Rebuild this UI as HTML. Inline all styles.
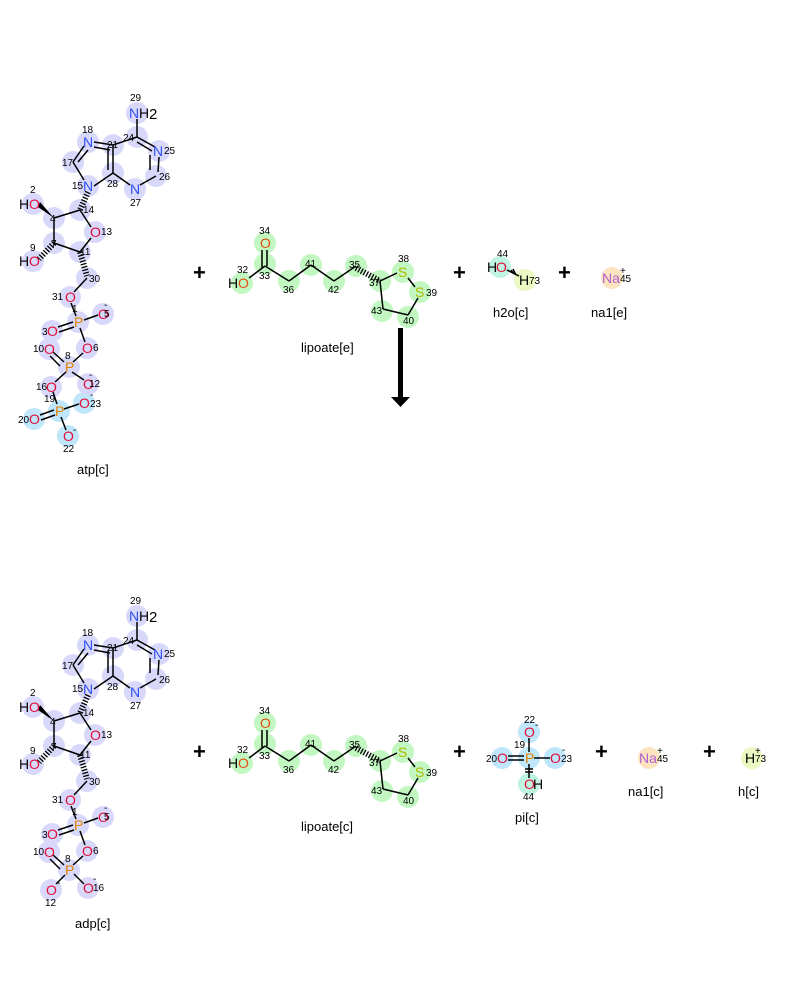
<!DOCTYPE html>
<html><head><meta charset="utf-8"><style>
html,body{margin:0;padding:0;background:#fff;}
svg{display:block;font-family:"Liberation Sans","DejaVu Sans",sans-serif;}
.n{font-size:10px;fill:#000;}
.a{font-size:14px;}
.N{fill:#3050f8}.O{fill:#e0103a}.P{fill:#e08000}.S{fill:#b0b800}.Na{fill:#b060d0}.K{fill:#000}
.lbl{font-size:13px;fill:#000;}
.pl{font-size:22px;font-weight:bold;fill:#000;}
line{stroke:#000;stroke-width:1.5}
line.h{stroke-width:6;stroke-dasharray:1.3 1.7}
.cp circle{fill:#d8d8fa;r:11px}
.cb circle{fill:#bfe6fa;r:11px}
.cg circle{fill:#c2f7c2;r:11px}
</style></head><body>
<svg width="800" height="1000" viewBox="0 0 800 1000" xmlns="http://www.w3.org/2000/svg">
<defs>
<g id="aden">
 <g class="cp">
  <circle cx="137" cy="113" r="11"/><circle cx="137" cy="137" r="11"/><circle cx="88" cy="142" r="11"/>
  <circle cx="113" cy="145" r="11"/><circle cx="159" cy="151" r="11"/><circle cx="73" cy="162" r="11"/>
  <circle cx="156" cy="176" r="11"/><circle cx="88" cy="186" r="11"/><circle cx="113" cy="173" r="11"/>
  <circle cx="135" cy="189" r="11"/><circle cx="33" cy="204" r="11"/><circle cx="54" cy="218" r="11"/>
  <circle cx="80" cy="210" r="11"/><circle cx="95" cy="232" r="11"/><circle cx="54" cy="243" r="11"/>
  <circle cx="80" cy="252" r="11"/><circle cx="33" cy="261" r="11"/><circle cx="87" cy="278" r="11"/>
  <circle cx="70" cy="297" r="11"/><circle cx="78" cy="322" r="11"/><circle cx="103" cy="314" r="11"/>
  <circle cx="52" cy="331" r="11"/><circle cx="87" cy="348" r="11"/><circle cx="49" cy="349" r="11"/>
  <circle cx="69" cy="367" r="11"/>
 </g>
 <line x1="137" y1="119" x2="137" y2="137"/>
 <line x1="137" y1="137" x2="155" y2="147"/><line x1="137" y1="142" x2="152" y2="151"/>
 <line x1="159" y1="157" x2="158" y2="172"/><line x1="150" y1="155" x2="150" y2="170"/>
 <line x1="156" y1="176" x2="140" y2="185"/>
 <line x1="130" y1="185" x2="113" y2="173"/>
 <line x1="113" y1="173" x2="113" y2="145"/><line x1="108" y1="170" x2="108" y2="148"/>
 <line x1="113" y1="145" x2="137" y2="137"/>
 <line x1="113" y1="145" x2="94" y2="142"/><line x1="110" y1="150" x2="94" y2="147"/>
 <line x1="84" y1="146" x2="73" y2="162"/><line x1="88" y1="150" x2="78" y2="162"/>
 <line x1="73" y1="162" x2="84" y2="180"/>
 <line x1="94" y1="186" x2="113" y2="173"/>
 <line class="h" x1="88" y1="192" x2="80" y2="210"/>
 <line x1="80" y1="210" x2="54" y2="218"/>
 <polygon points="54,218 40,202 38,207" fill="#000"/>
 <line x1="54" y1="218" x2="54" y2="243"/>
 <line class="h" x1="54" y1="243" x2="39" y2="259"/>
 <line x1="54" y1="243" x2="80" y2="252"/>
 <line x1="80" y1="252" x2="91" y2="238"/>
 <line x1="91" y1="227" x2="80" y2="210"/>
 <line class="h" x1="80" y1="252" x2="87" y2="276"/>
 <line x1="87" y1="278" x2="74" y2="292"/>
 <line x1="71" y1="303" x2="76" y2="316"/>
 <line x1="84" y1="320" x2="98" y2="315"/>
 <line x1="73" y1="322" x2="58" y2="327"/><line x1="74" y1="327" x2="59" y2="332"/>
 <line x1="80" y1="328" x2="85" y2="342"/>
 <line x1="83" y1="353" x2="73" y2="362"/>
 <line x1="64" y1="362" x2="53" y2="352"/><line x1="60" y1="366" x2="50" y2="356"/>
 <g class="a">
  <text x="129" y="118" class="N">N</text><text x="139" y="118" class="K">H</text><text x="149" y="119" class="K" font-size="15">2</text>
  <text x="83" y="147" class="N">N</text><text x="153" y="156" class="N">N</text>
  <text x="83" y="191" class="N">N</text><text x="130" y="194" class="N">N</text>
  <text x="19" y="209" class="K">H</text><text x="29" y="209" class="O">O</text>
  <text x="90" y="237" class="O">O</text>
  <text x="19" y="266" class="K">H</text><text x="29" y="266" class="O">O</text>
  <text x="65" y="302" class="O">O</text><text x="74" y="327" class="P">P</text>
  <text x="98" y="319" class="O">O</text><text x="47" y="336" class="O">O</text>
  <text x="82" y="353" class="O">O</text><text x="44" y="354" class="O">O</text>
  <text x="65" y="372" class="P">P</text>
 </g>
 <g class="n">
  <text x="130" y="101">29</text><text x="123" y="141">24</text><text x="82" y="133">18</text>
  <text x="107" y="148">21</text><text x="164" y="154">25</text><text x="62" y="166">17</text>
  <text x="159" y="180">26</text><text x="72" y="189">15</text><text x="107" y="187">28</text>
  <text x="130" y="206">27</text><text x="30" y="193">2</text><text x="50" y="222">4</text>
  <text x="83" y="213">14</text><text x="101" y="235">13</text><text x="51" y="247">7</text>
  <text x="80" y="255">11</text><text x="30" y="251">9</text><text x="89" y="282">30</text>
  <text x="52" y="300">31</text><text x="72" y="312">1</text><text x="104" y="317">5</text>
  <text x="104" y="308">-</text><text x="42" y="335">3</text><text x="93" y="351">6</text>
  <text x="33" y="352">10</text><text x="65" y="359">8</text>
 </g>
</g>
<g id="lip">
 <g class="cg">
  <circle cx="265" cy="243" r="11"/><circle cx="265" cy="264" r="11"/><circle cx="242" cy="283" r="11"/>
  <circle cx="289" cy="281" r="11"/><circle cx="311" cy="265" r="11"/><circle cx="334" cy="281" r="11"/>
  <circle cx="356" cy="266" r="11"/><circle cx="380" cy="281" r="11"/><circle cx="403" cy="272" r="11"/>
  <circle cx="420" cy="292" r="11"/><circle cx="408" cy="317" r="11"/><circle cx="382" cy="311" r="11"/>
 </g>
 <line x1="262" y1="250" x2="262" y2="268"/><line x1="267" y1="250" x2="267" y2="266"/>
 <line x1="265" y1="266" x2="249" y2="278"/>
 <line x1="265" y1="266" x2="289" y2="281"/>
 <line x1="289" y1="281" x2="311" y2="265"/>
 <line x1="311" y1="265" x2="334" y2="281"/>
 <line x1="334" y1="281" x2="356" y2="266"/>
 <line class="h" x1="356" y1="268" x2="380" y2="281"/>
 <line x1="380" y1="281" x2="397" y2="273"/>
 <line x1="408" y1="278" x2="415" y2="287"/>
 <line x1="418" y1="298" x2="408" y2="315"/>
 <line x1="408" y1="315" x2="383" y2="309"/>
 <line x1="383" y1="309" x2="380" y2="281"/>
 <g class="a">
  <text x="260" y="248" style="fill:#e05010">O</text>
  <text x="228" y="288" class="K">H</text><text x="238" y="288" style="fill:#e05010">O</text>
  <text x="398" y="277" class="S">S</text><text x="415" y="297" class="S">S</text>
 </g>
 <g class="n">
  <text x="259" y="234">34</text><text x="237" y="273">32</text><text x="259" y="279">33</text>
  <text x="283" y="293">36</text><text x="305" y="267">41</text><text x="328" y="293">42</text>
  <text x="349" y="268">35</text><text x="369" y="286">37</text><text x="398" y="262">38</text>
  <text x="426" y="296">39</text><text x="403" y="324">40</text><text x="371" y="314">43</text>
 </g>
</g>
</defs>

<!-- TOP -->
<use href="#aden"/>
<g class="cb"><circle cx="59" cy="411" r="11"/><circle cx="84" cy="403" r="11"/><circle cx="34" cy="419" r="11"/><circle cx="68" cy="436" r="11"/></g>
<g class="cp"><circle cx="51" cy="387" r="11"/><circle cx="88" cy="384" r="11"/></g>
<line x1="72" y1="372" x2="84" y2="380"/>
<line x1="66" y1="372" x2="55" y2="382"/>
<line x1="53" y1="392" x2="57" y2="404"/>
<line x1="64" y1="409" x2="79" y2="404"/>
<line x1="54" y1="410" x2="40" y2="415"/><line x1="55" y1="415" x2="41" y2="420"/>
<line x1="61" y1="417" x2="66" y2="430"/>
<g class="a">
 <text x="46" y="392" class="O">O</text><text x="83" y="389" class="O">O</text>
 <text x="55" y="416" class="P">P</text><text x="79" y="408" class="O">O</text>
 <text x="29" y="424" class="O">O</text><text x="63" y="441" class="O">O</text>
</g>
<g class="n">
 <text x="36" y="390">16</text><text x="89" y="387">12</text><text x="89" y="378">-</text>
 <text x="44" y="402">19</text><text x="90" y="407">23</text><text x="90" y="398">-</text>
 <text x="18" y="423">20</text><text x="73" y="433">-</text><text x="63" y="452">22</text>
</g>
<text x="77" y="474" class="lbl">atp[c]</text>

<text x="193" y="280" class="pl">+</text>
<use href="#lip"/>
<text x="301" y="352" class="lbl">lipoate[e]</text>
<text x="453" y="280" class="pl">+</text>

<circle cx="500" cy="267" r="11" fill="#bff5e0"/><circle cx="525" cy="280" r="11" fill="#ecf8c2"/>
<line x1="507" y1="270" x2="519" y2="276"/><line x1="511" y1="270" x2="514" y2="274"/><line x1="513" y1="269" x2="516" y2="275"/>
<text x="487" y="272" class="a K">H</text><text x="496" y="272" class="a O">O</text>
<text x="519" y="285" class="a K">H</text><text x="529" y="284" class="n">73</text>
<text x="497" y="257" class="n">44</text>
<text x="493" y="317" class="lbl">h2o[c]</text>
<text x="558" y="280" class="pl">+</text>
<circle cx="612" cy="278" r="11" fill="#fde4c0"/>
<text x="602" y="283" class="a Na">Na</text><text x="620" y="282" class="n">45</text><text x="620" y="274" class="n" font-size="13">+</text>
<text x="591" y="317" class="lbl">na1[e]</text>

<rect x="398" y="328" width="5" height="70" fill="#000"/>
<polygon points="391,397 410,397 400.5,407" fill="#000"/>

<!-- BOTTOM -->
<g transform="translate(0,503)"><use href="#aden"/></g>
<g class="cp"><circle cx="51" cy="890" r="11"/><circle cx="88" cy="888" r="11"/></g>
<line x1="74" y1="874" x2="84" y2="884"/>
<line x1="65" y1="875" x2="56" y2="884"/>
<g class="a"><text x="46" y="895" class="O">O</text><text x="83" y="893" class="O">O</text></g>
<g class="n"><text x="57" y="886">-</text><text x="45" y="906">12</text><text x="93" y="891">16</text><text x="93" y="882">-</text></g>
<text x="75" y="928" class="lbl">adp[c]</text>

<text x="193" y="759" class="pl">+</text>
<g transform="translate(0,480)"><use href="#lip"/></g>
<text x="301" y="831" class="lbl">lipoate[c]</text>
<text x="453" y="759" class="pl">+</text>

<g class="cb"><circle cx="529" cy="732" r="11"/><circle cx="529" cy="758" r="11"/><circle cx="502" cy="758" r="11"/><circle cx="555" cy="758" r="11"/></g>
<circle cx="529" cy="784" r="11" fill="#bff5e0"/>
<line x1="529" y1="738" x2="529" y2="752"/>
<line x1="534" y1="758" x2="550" y2="758"/>
<line x1="508" y1="756" x2="524" y2="756"/><line x1="508" y1="760" x2="524" y2="760"/>
<line x1="529" y1="764" x2="529" y2="778"/><line x1="525" y1="769" x2="533" y2="769"/><line x1="525" y1="772" x2="533" y2="772"/>
<g class="a">
 <text x="524" y="737" class="O">O</text><text x="525" y="763" class="P">P</text>
 <text x="497" y="763" class="O">O</text><text x="550" y="763" class="O">O</text>
 <text x="524" y="789" class="O">O</text><text x="533" y="789" class="K">H</text>
</g>
<g class="n">
 <text x="524" y="723">22</text><text x="535" y="728">-</text><text x="514" y="748">19</text>
 <text x="486" y="762">20</text><text x="561" y="762">23</text><text x="562" y="753">-</text>
 <text x="523" y="800">44</text>
</g>
<text x="515" y="822" class="lbl">pi[c]</text>

<text x="595" y="759" class="pl">+</text>
<circle cx="649" cy="758" r="11" fill="#fde4c0"/>
<text x="639" y="763" class="a Na">Na</text><text x="657" y="762" class="n">45</text><text x="657" y="754" class="n" font-size="13">+</text>
<text x="628" y="796" class="lbl">na1[c]</text>

<text x="703" y="759" class="pl">+</text>
<circle cx="752" cy="758" r="11" fill="#ecf8c2"/>
<text x="745" y="763" class="a K">H</text><text x="755" y="762" class="n">73</text><text x="755" y="754" class="n" font-size="13">+</text>
<text x="738" y="796" class="lbl">h[c]</text>
</svg>
</body></html>
